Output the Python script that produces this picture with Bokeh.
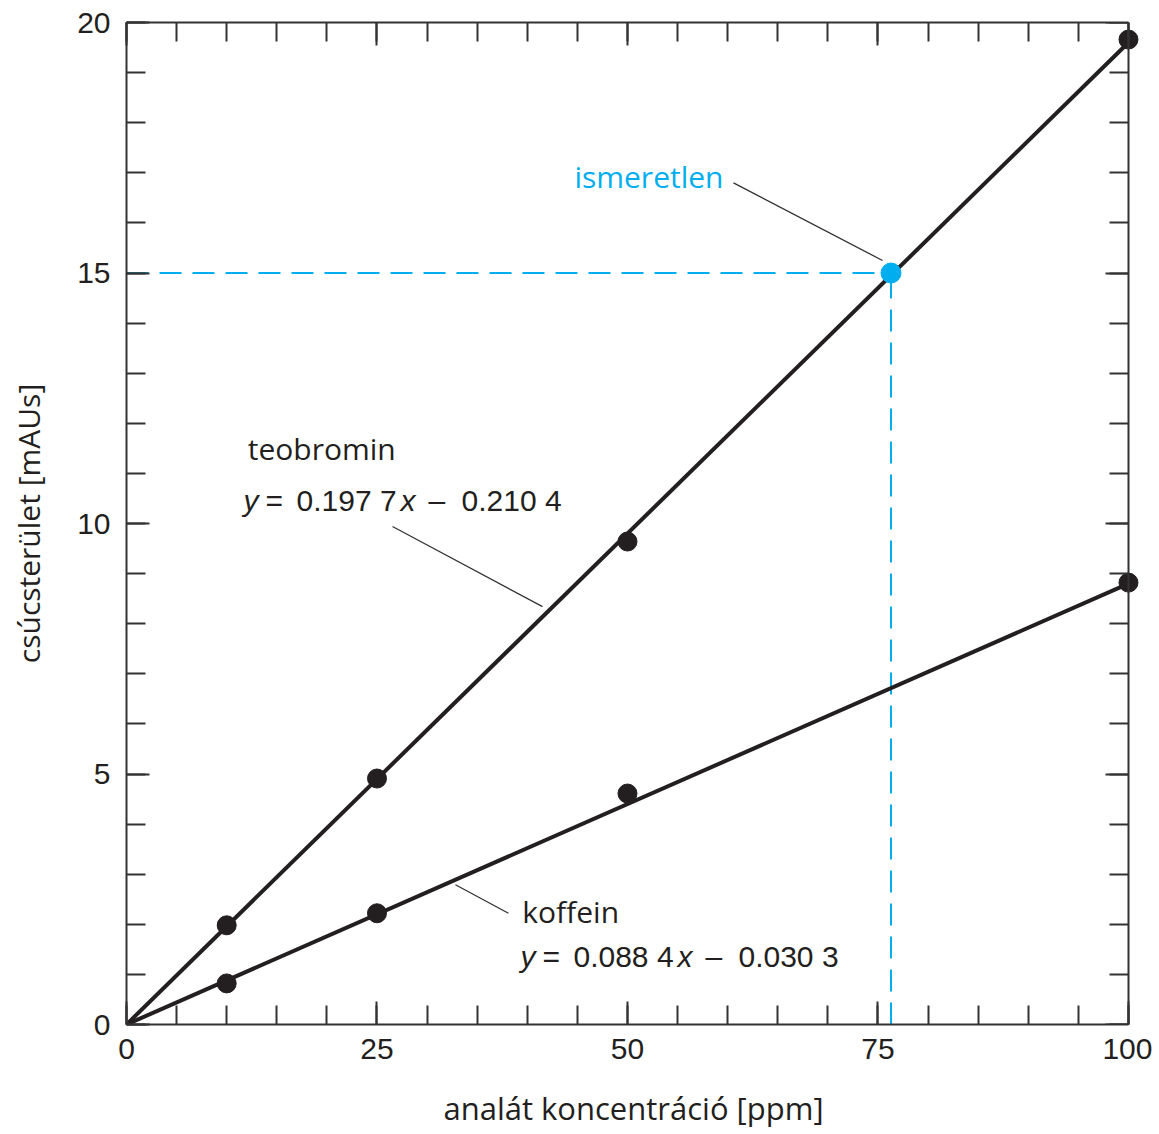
from bokeh.plotting import figure
from bokeh.models import Range1d, LinearAxis, FixedTicker, Label
from bokeh.embed import file_html
from bokeh.resources import INLINE

# ---- data ----
conc = [10, 25, 50, 100]
teo_area = [1.98, 4.91, 9.64, 19.66]
kof_area = [0.82, 2.22, 4.61, 8.82]
fit_x = [0, 100]
teo_fit = [0.0, 19.6]
kof_fit = [0.0, 8.8]
unknown_x = [76.3]
unknown_y = [15.0]
x_major = [0, 25, 50, 75, 100]
x_minor = list(range(0, 101, 5))
y_major = [0, 5, 10, 15, 20]
y_minor = list(range(0, 21))

DARK = "#231f20"
CYAN = "#00aeef"
FRAME = "#333333"

# extra room on the right so that the dots at x = 100 are not cut by the frame
p = figure(width=1152, height=1132, x_range=Range1d(0, 101.2), y_range=Range1d(0, 20),
           output_backend="svg", toolbar_location=None,
           x_axis_type=None, y_axis_type=None,
           min_border_left=126, min_border_top=22, min_border_right=12, min_border_bottom=108)
p.grid.visible = False
p.outline_line_color = None
p.background_fill_color = "white"
p.border_fill_color = "white"


def style_axis(ax, labels=True):
    ax.axis_line_color = FRAME
    ax.axis_line_width = 2
    ax.major_tick_line_color = FRAME
    ax.major_tick_line_width = 2
    ax.minor_tick_line_color = FRAME
    ax.minor_tick_line_width = 2
    ax.major_tick_in = 23
    ax.major_tick_out = 0
    ax.minor_tick_in = 19
    ax.minor_tick_out = 0
    if labels:
        ax.major_label_text_font = "Liberation Sans"
        ax.major_label_text_font_size = "30px"
        ax.major_label_text_color = DARK
        ax.axis_label_text_font = "Open Sans"
        ax.axis_label_text_font_style = "normal"
        ax.axis_label_text_color = DARK
    else:
        ax.major_label_text_font_size = "0px"
        ax.major_label_text_alpha = 0


xt = FixedTicker(ticks=x_major, minor_ticks=x_minor)
yt = FixedTicker(ticks=y_major, minor_ticks=y_minor)

xb = LinearAxis(ticker=xt, axis_label="analát koncentráció [ppm]", bounds=(0, 100))
style_axis(xb)
xb.axis_label_text_font_size = "31px"
xb.major_label_standoff = 14
xb.axis_label_standoff = 25
p.add_layout(xb, "below")

xa = LinearAxis(ticker=xt, bounds=(0, 100))
style_axis(xa, labels=False)
p.add_layout(xa, "above")

yl = LinearAxis(ticker=yt, axis_label="csúcsterület [mAUs]")
style_axis(yl)
yl.axis_label_text_font_size = "30px"
yl.major_label_standoff = 16
yl.axis_label_standoff = 25
p.add_layout(yl, "left")

yr = LinearAxis(ticker=yt, fixed_location=100)
style_axis(yr, labels=False)
p.add_layout(yr, "right")

# dashed guide lines for the unknown
p.line([fit_x[0], unknown_x[0]], [unknown_y[0], unknown_y[0]], line_color=CYAN,
       line_width=2, line_dash="22 11")
p.line([unknown_x[0], unknown_x[0]], [0, unknown_y[0]], line_color=CYAN,
       line_width=2, line_dash="22 11")

# calibration lines
p.line(fit_x, teo_fit, line_color=DARK, line_width=4)
p.line(fit_x, kof_fit, line_color=DARK, line_width=4)

# leader lines
p.line([60.58, 75.45], [16.8, 15.25], line_color="#333333", line_width=1.3)
p.line([26.55, 41.52], [9.94, 8.34], line_color="#333333", line_width=1.3)
p.line([32.83, 38.12], [2.79, 2.22], line_color="#333333", line_width=1.3)

# points
p.scatter(conc, teo_area, size=19, fill_color=DARK, line_color=DARK)
p.scatter(conc, kof_area, size=19, fill_color=DARK, line_color=DARK)
p.scatter(unknown_x, unknown_y, size=20, fill_color=CYAN, line_color=CYAN)


def label(x, y, text, color=DARK, font="Open Sans", style="normal", xoff=0, size="30px"):
    p.add_layout(Label(x=x, y=y, text=text, x_offset=xoff, text_color=color,
                       text_font=font, text_font_style=style, text_font_size=size,
                       text_baseline="alphabetic", text_align="left"))


label(44.7, 16.93, "ismeretlen", color=CYAN)
label(12.1, 11.5, "teobromin")
label(39.5, 2.25, "koffein")


def equation(x, y, slope, intercept):
    label(x, y, "y", font="Liberation Sans", style="italic", size="30px")
    label(x, y, "=", font="Liberation Sans", xoff=22, size="30px")
    label(x, y, slope, font="Liberation Sans", xoff=53, size="30px")
    label(x, y, "x", font="Liberation Sans", style="italic", xoff=157, size="30px")
    label(x, y, "\u2013", font="Liberation Sans", xoff=185, size="30px")
    label(x, y, intercept, font="Liberation Sans", xoff=218, size="30px")


equation(11.68, 10.45, "0.197 7", "0.210 4")
equation(39.32, 1.35, "0.088 4", "0.030 3")

open("out.html", "w").write(file_html(p, INLINE))
